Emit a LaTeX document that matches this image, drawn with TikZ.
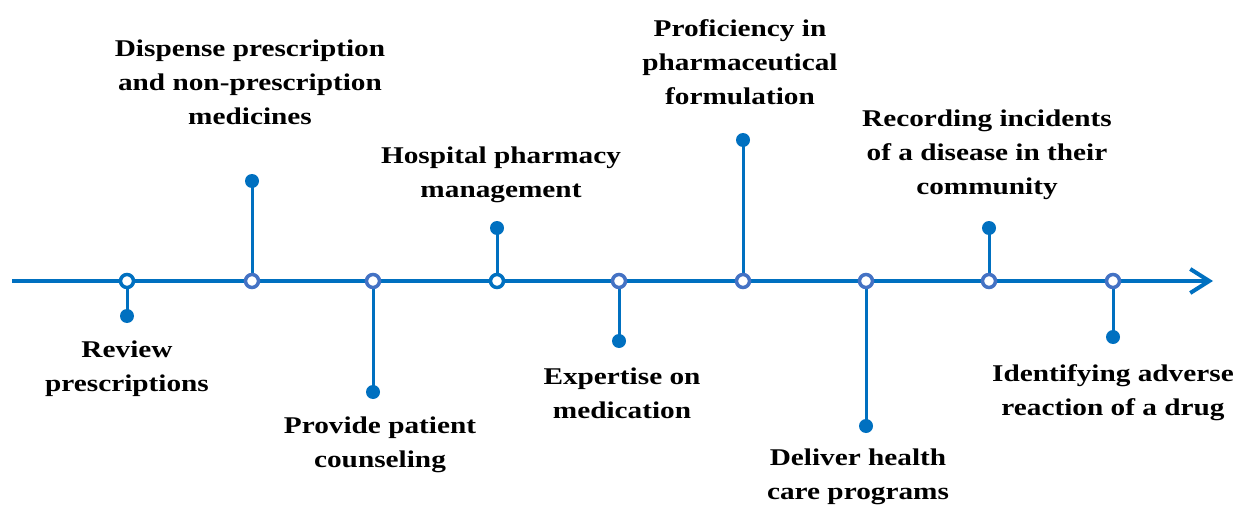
\documentclass[tikz,border=0pt]{standalone}
\usepackage{fontspec}
\setmainfont[FakeStretch=1.22]{Liberation Serif}
\usetikzlibrary{arrows.meta}
\definecolor{lineblue}{HTML}{0070C0}
\definecolor{ringblue}{HTML}{4472C4}
\begin{document}
\begin{tikzpicture}[x=1pt,y=-1pt,
  axis/.style={draw=lineblue,line width=4pt,-{Straight Barb[length=19pt,width=24pt,line width=4pt]}},
  stem/.style={draw=lineblue,line width=3pt},
  ring/.style={circle,draw=ringblue,fill=white,line width=3.5pt,minimum size=13pt,inner sep=0pt},
  ringdark/.style={ring,draw=lineblue},
  dot/.style={circle,fill=lineblue,minimum size=14pt,inner sep=0pt},
  lbl/.style={align=center,font=\fontsize{24}{34}\selectfont\bfseries,inner sep=0pt}]
\useasboundingbox (0,0) rectangle (1245,508);
\coordinate (s) at (12,281);
\coordinate (e) at (1213,281);
\draw[axis] (s) -- (e);
% dots
\node[dot] (d1) at (127,316) {};
\node[dot] (d2) at (252,181) {};
\node[dot] (d3) at (373,392) {};
\node[dot] (d4) at (497,228) {};
\node[dot] (d5) at (619,341) {};
\node[dot] (d6) at (743,140) {};
\node[dot] (d7) at (866,426) {};
\node[dot] (d8) at (989,228) {};
\node[dot] (d9) at (1113,337) {};
% rings positions
\coordinate (c1) at (127,281);
\coordinate (c2) at (252,281);
\coordinate (c3) at (373,281);
\coordinate (c4) at (497,281);
\coordinate (c5) at (619,281);
\coordinate (c6) at (743,281);
\coordinate (c7) at (866,281);
\coordinate (c8) at (989,281);
\coordinate (c9) at (1113,281);
\foreach \i in {1,...,9} {\draw[stem] (c\i) -- (d\i.center);}
\node[ringdark] (r1) at (c1) {};
\node[ring] (r2) at (c2) {};
\node[ring] (r3) at (c3) {};
\node[ringdark] (r4) at (c4) {};
\node[ring] (r5) at (c5) {};
\node[ring] (r6) at (c6) {};
\node[ring] (r7) at (c7) {};
\node[ring] (r8) at (c8) {};
\node[ring] (r9) at (c9) {};
% labels
\node[lbl] (l1) at (127,369) {Review\\prescriptions};
\node[lbl] (l2) at (250,82) {Dispense prescription\\and non-prescription\\medicines};
\node[lbl] (l3) at (380,445) {Provide patient\\counseling};
\node[lbl] (l4) at (501,175) {Hospital pharmacy\\management};
\node[lbl] (l5) at (622,393) {Expertise on\\medication};
\node[lbl] (l6) at (740,62) {Proficiency in\\pharmaceutical\\formulation};
\node[lbl] (l7) at (987,155) {Recording incidents\\of a disease in their\\community};
\node[lbl] (l8) at (858,477) {Deliver health\\care programs};
\node[lbl] (l9) at (1113,393) {Identifying adverse\\reaction of a drug};
\end{tikzpicture}
\end{document}
